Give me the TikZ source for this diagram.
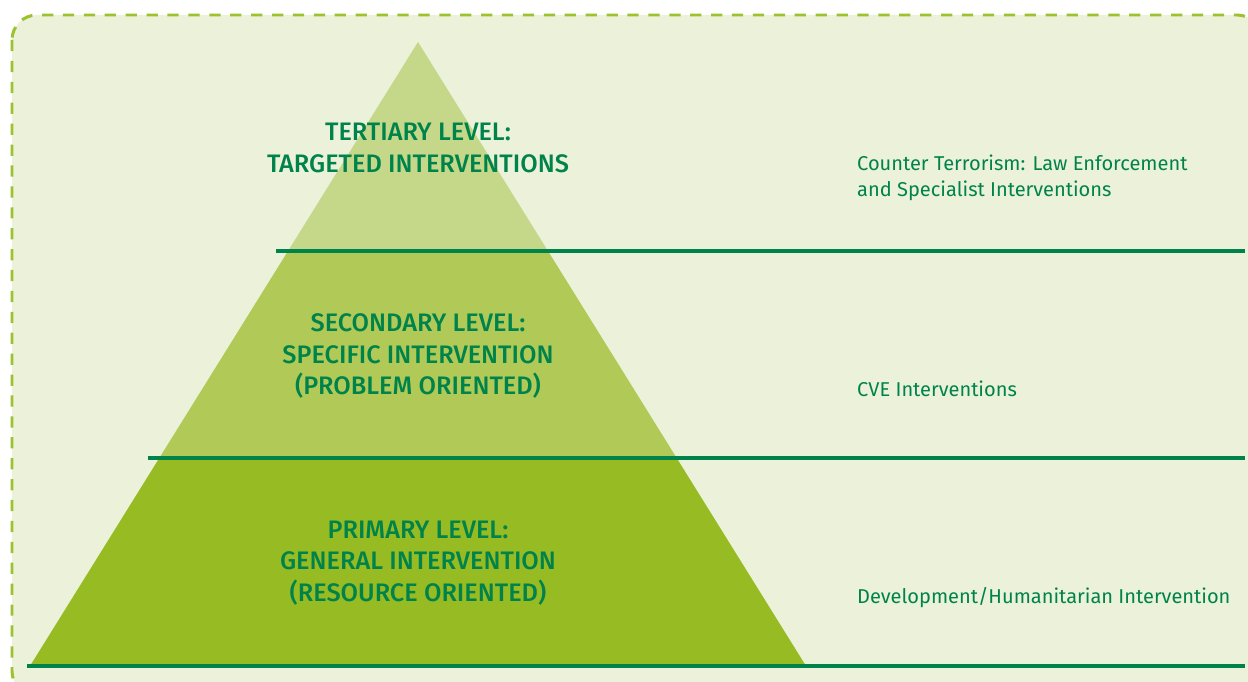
\documentclass[tikz,border=0pt]{standalone}
\usepackage{fontspec}
\setmainfont{Fira Sans}[BoldFont={Fira Sans Medium}]
\usetikzlibrary{calc}
\definecolor{panelbg}{HTML}{ECF1DA}
\definecolor{panelrim}{HTML}{9DC22F}
\definecolor{tiertop}{HTML}{C5D88A}
\definecolor{tiermid}{HTML}{B0C957}
\definecolor{tierlow}{HTML}{97BB22}
\definecolor{eugreen}{HTML}{00834B}

\begin{document}
\begin{tikzpicture}[x=0.02cm,y=-0.02cm,
  level/.style={font=\bfseries\fontsize{14.4}{18}\selectfont,text=eugreen,align=center},
  note/.style={font=\fontsize{11.4}{14.7}\selectfont,text=eugreen,align=left,anchor=west},
  rule/.style={draw=eugreen,line width=2pt}]
\useasboundingbox (0,0) rectangle (1248,682);
%panel
\draw[panelrim,fill=panelbg,line width=1.7pt,dash pattern=on 6.4pt off 5.5pt,rounded corners=0.5cm]
  (12,15) rectangle (1262,696);
%pyramid
\coordinate (apex) at (418,42);
\coordinate (bl) at (30,666);
\coordinate (br) at (806,666);
\coordinate (l1) at ($(apex)!0.3349!(bl)$);
\coordinate (r1) at ($(apex)!0.3349!(br)$);
\coordinate (l2) at ($(apex)!0.6667!(bl)$);
\coordinate (r2) at ($(apex)!0.6667!(br)$);
\fill[tierlow] (l2)--(r2)--(br)--(bl)--cycle;
\fill[tiermid] (l1)--(r1)--(r2)--(l2)--cycle;
\fill[tiertop] (apex)--(r1)--(l1)--cycle;
%rules
\coordinate (a1) at (276,251); \coordinate (b1) at (1245,251);
\coordinate (a2) at (148,458); \coordinate (b2) at (1245,458);
\coordinate (a3) at (27,666); \coordinate (b3) at (1245,666);
\draw[rule] (a1)--(b1);
\draw[rule] (a2)--(b2);
\draw[rule] (a3)--(b3);
%labels
\path (418,148) node(tert)[level]{TERTIARY LEVEL:\\TARGETED INTERVENTIONS}
(418,356) node(sec)[level]{SECONDARY LEVEL:\\SPECIFIC INTERVENTION\\(PROBLEM ORIENTED)}
(418,563) node(prim)[level]{PRIMARY LEVEL:\\GENERAL INTERVENTION\\(RESOURCE ORIENTED)}
(851,178) node(ct)[note]{Counter Terrorism: Law Enforcement\\and Specialist Interventions}
(851,389) node(cve)[note]{CVE Interventions}
(851,598) node(dev)[note]{Development/Humanitarian Intervention};

\end{tikzpicture}
\end{document}
